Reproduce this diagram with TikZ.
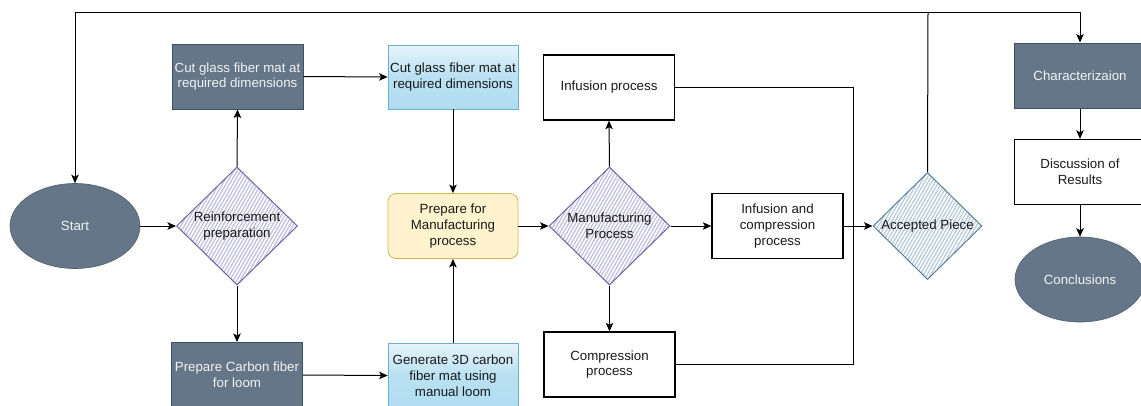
\documentclass[tikz,border=0pt]{standalone}
\usepackage{fontspec}
\setmainfont{Liberation Sans}
\usetikzlibrary{shapes.geometric,arrows.meta,calc}

\definecolor{slate}{HTML}{647687}
\definecolor{slateline}{HTML}{3E5064}
\definecolor{skyfill}{HTML}{B1DDF0}
\definecolor{skytop}{HTML}{E6F4FB}
\definecolor{skyline}{HTML}{6FAFCE}
\definecolor{creamfill}{HTML}{FFF2CC}
\definecolor{creamline}{HTML}{D6B656}
\definecolor{lilacline}{HTML}{6A66A0}
\definecolor{lilachatch}{HTML}{C4C2DE}
\definecolor{steelline}{HTML}{5D7F9C}
\definecolor{steelhatch}{HTML}{B9CDDD}
\definecolor{ink}{HTML}{1A1A1A}
\definecolor{paleink}{HTML}{F2F2F2}

\tikzset{
  base/.style={font=\fontsize{13.3}{15.8}\selectfont, align=center, inner sep=0pt, text=ink},
  darkbox/.style={base, rectangle, fill=slate, draw=slateline, line width=1pt,
    text=paleink, minimum width=131pt, minimum height=65pt},
  skybox/.style={base, rectangle, draw=skyline, line width=0.8pt,
    top color=skytop, bottom color=skyfill, middle color=skyfill!85!skytop,
    minimum width=130pt, minimum height=64pt},
  creambox/.style={base, rectangle, rounded corners=8pt, fill=creamfill, draw=creamline,
    line width=0.8pt, minimum width=130pt, minimum height=65pt},
  plainbox/.style={base, rectangle, fill=white, draw=black, line width=1.4pt,
    minimum width=131pt, minimum height=65pt},
  oval/.style={base, ellipse, fill=slate, draw=slate!80!black, line width=0.6pt,
    text=paleink, minimum width=130pt, minimum height=85pt},
  hatchfill/.style={path picture={
    \foreach \i in {-130,-126.5,...,130}{
      \draw[#1, line width=1.3pt]
        ($(path picture bounding box.center)+(\i pt-50pt,-87pt)$) -- ++(100pt,173pt);
    }}},
  decision/.style={base, diamond, aspect=1, fill=white, draw=lilacline, line width=1pt,
    hatchfill=lilachatch, minimum width=121pt, minimum height=118pt},
  check/.style={base, diamond, aspect=1, fill=white, draw=steelline, line width=1pt,
    hatchfill=steelhatch, minimum width=109pt, minimum height=107pt},
  arr/.style={draw=black, line width=1pt, -{Stealth[length=8.5pt,width=7.5pt,inset=2pt]}},
  link/.style={draw=black, line width=1pt},
}

\begin{document}
\begin{tikzpicture}[x=1pt, y=-1pt]
  \fill[white] (0,0) rectangle (1141,405);
  \useasboundingbox (0,0) rectangle (1141,405);

  % first column: start and the preparation decision
  \node[oval] (start) at (75,226) {Start};
  \node[decision] (reinf) at (237,226) {Reinforcement\\preparation};
  \node[darkbox] (cutA) at (237.5,76.5) {Cut glass fiber mat at\\required dimensions};
  \node[darkbox] (carbon) at (237,375) {Prepare Carbon fiber\\for loom};

  % second column: reinforcement products
  \node[skybox] (cutB) at (453,77) {Cut glass fiber mat at\\required dimensions};
  \node[creambox] (prep) at (453,226) {Prepare for\\Manufacturing\\process};
  \node[skybox] (gen) at (453,375.5) {Generate 3D carbon\\fiber mat using\\manual loom};

  % manufacturing routes
  \node[decision] (manu) at (609.5,226) {Manufacturing\\Process};
  \node[plainbox] (inf) at (609,87.5) {Infusion process};
  \node[plainbox] (comp) at (609.5,364.5) {Compression\\process};
  \node[plainbox] (infc) at (777.5,226) {Infusion and\\compression\\process};

  % acceptance and final steps
  \node[check] (acc) at (927.5,226) {Accepted Piece};
  \node[darkbox] (char) at (1080,75.5) {Characterizaion};
  \node[plainbox] (disc) at (1080,172) {Discussion of\\Results};
  \node[oval] (concl) at (1080,279.5) {Conclusions};

  \coordinate (brk) at (853,226);
  \coordinate (junc) at (928,12);

  % connectors
  \draw[arr] (start.east) -- (reinf.west);
  \draw[arr] (reinf.north) -- (cutA.south);
  \draw[arr] (reinf.south) -- (carbon.north);
  \draw[arr] (cutA.east) -- (cutB.west);
  \draw[arr] (carbon.east) -- (gen.west);
  \draw[arr] (cutB.south) -- (prep.north);
  \draw[arr] (gen.north) -- (prep.south);
  \draw[arr] (prep.east) -- (manu.west);
  \draw[arr] (manu.north) -- (inf.south);
  \draw[arr] (manu.south) -- (comp.north);
  \draw[arr] (manu.east) -- (infc.west);
  \draw[link] (inf.east) -- (inf.east -| brk) -- (comp.east -| brk) -- (comp.east);
  \draw[arr] (infc.east) -- (acc.west);
  \draw[link] (acc.north) -- (junc);
  \draw[arr] (junc) -| (start.north);
  \draw[arr] (junc) -| (char.north);
  \draw[arr] (char.south) -- (disc.north);
  \draw[arr] (disc.south) -- (concl.north);
\end{tikzpicture}
\end{document}
